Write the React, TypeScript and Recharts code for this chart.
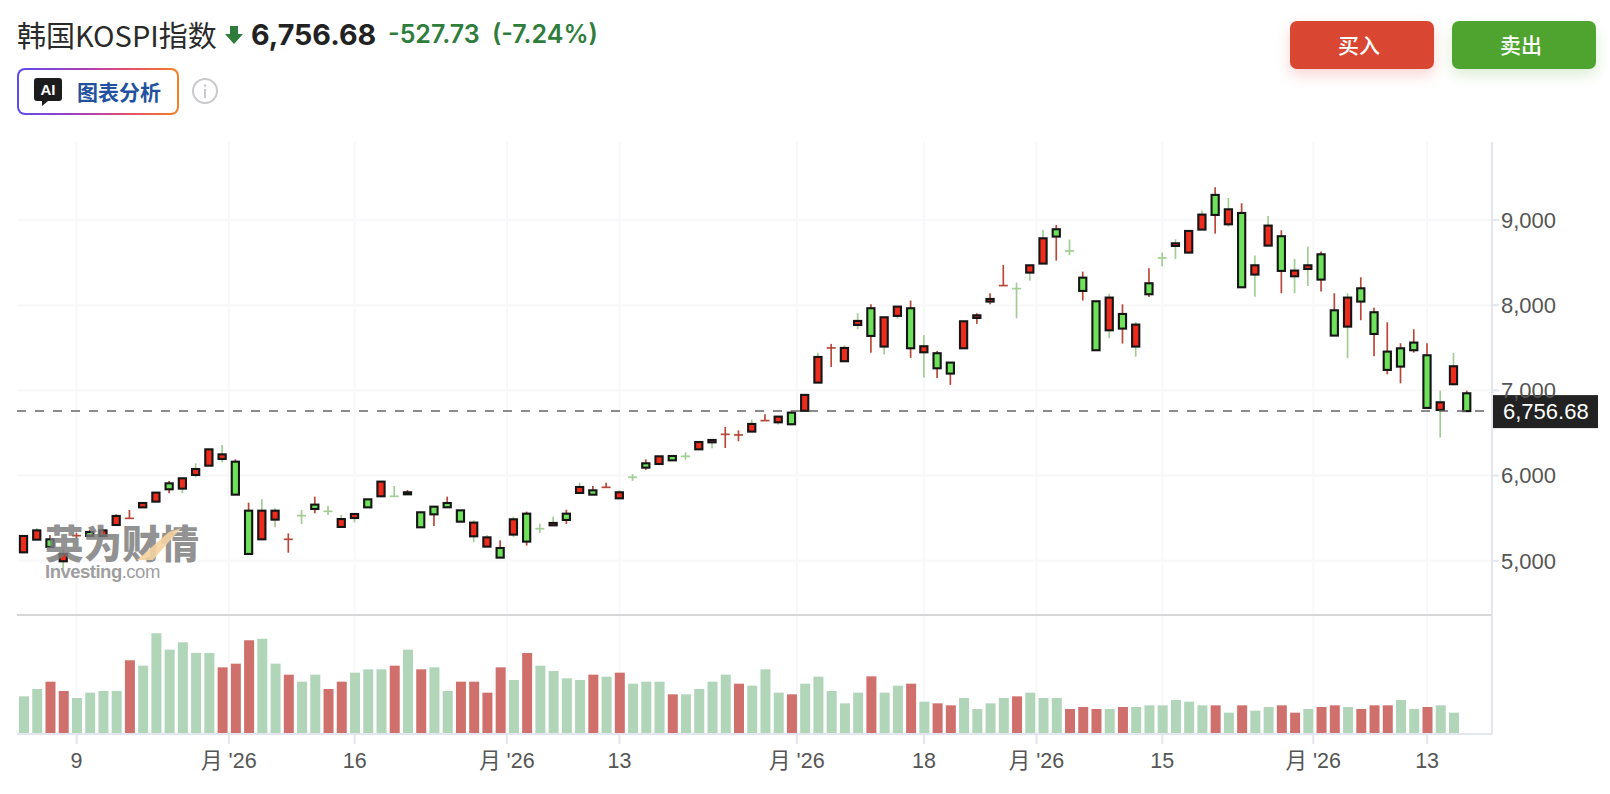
// App.tsx - KOSPI daily candles with volume pane
import { ComposedChart, Bar, Cell, CartesianGrid, XAxis, YAxis, ReferenceLine } from 'recharts'

const opens = [
  5099, 5248, 5252, 4994, 5295, 5338, 5291, 5420, 5498, 5627,
  5694, 5909, 5847, 6007, 6116, 6195, 6163, 5588, 5252, 5483,
  5252, 5530, 5659, 5580, 5397, 5502, 5721, 5757, 5757, 5780,
  5569, 5635, 5678, 5592, 5287, 5166, 5150, 5307, 5553, 5377,
  5416, 5553, 5796, 5827, 5862, 5733, 5980, 6144, 6136, 6230,
  6226, 6308, 6390, 6484, 6477, 6516, 6645, 6625, 6739, 6760,
  7091, 7498, 7342, 7768, 7964, 7514, 7874, 7964, 7447, 7436,
  7326, 7494, 7850, 8042, 8230, 8194, 8382, 8488, 8891, 8636,
  8323, 8046, 7705, 7897, 7514, 8257, 8554, 8695, 8617, 8887,
  9294, 8949, 9082, 8359, 8699, 8809, 8339, 8425, 8597, 7940,
  7748, 8198, 7917, 7455, 7494, 7561, 7412, 6770, 7072, 6966,
]
const highs = [
  5291, 5385, 5303, 5131, 5330, 5361, 5369, 5545, 5596, 5678,
  5800, 5937, 5976, 6144, 6308, 6359, 6191, 5682, 5725, 5616,
  5322, 5596, 5753, 5643, 5537, 5549, 5721, 5929, 5878, 5831,
  5569, 5635, 5753, 5592, 5475, 5303, 5240, 5518, 5577, 5436,
  5518, 5600, 5917, 5878, 5917, 5831, 6019, 6191, 6226, 6230,
  6273, 6394, 6418, 6570, 6531, 6656, 6719, 6692, 6762, 6947,
  7443, 7545, 7529, 7905, 8010, 7858, 7983, 8054, 7651, 7463,
  7326, 7811, 7905, 8140, 8472, 8265, 8468, 8883, 8942, 8769,
  8394, 8046, 8136, 8010, 7803, 8433, 8617, 8773, 8871, 9110,
  9384, 9258, 9196, 8582, 9047, 8879, 8543, 8687, 8629, 8140,
  8140, 8327, 7971, 7799, 7553, 7717, 7553, 6997, 7439, 6997,
]
const lows = [
  5099, 5248, 5162, 4911, 5264, 5291, 5291, 5420, 5498, 5627,
  5694, 5792, 5792, 5979, 6116, 6152, 5776, 5080, 5252, 5393,
  5095, 5432, 5557, 5537, 5397, 5451, 5627, 5757, 5757, 5780,
  5393, 5409, 5628, 5459, 5217, 5166, 5037, 5279, 5178, 5326,
  5416, 5432, 5796, 5776, 5862, 5733, 5937, 6066, 6136, 6179,
  6187, 6308, 6320, 6324, 6402, 6516, 6645, 6598, 6602, 6760,
  7091, 7275, 7342, 7717, 7443, 7420, 7842, 7381, 7150, 7146,
  7064, 7494, 7780, 8010, 8230, 7846, 8288, 8488, 8523, 8586,
  8054, 7471, 7611, 7549, 7396, 8097, 8456, 8542, 8617, 8887,
  8840, 8922, 8210, 8100, 8699, 8140, 8140, 8226, 8159, 7643,
  7377, 7823, 7400, 7189, 7083, 7443, 6794, 6446, 7072, 6756.68,
]
const closes = [
  5291, 5357, 5162, 5080, 5295, 5291, 5357, 5526, 5498, 5678,
  5800, 5839, 5968, 6077, 6308, 6249, 5776, 5080, 5588, 5588,
  5252, 5530, 5608, 5580, 5490, 5549, 5627, 5929, 5757, 5804,
  5393, 5545, 5628, 5459, 5448, 5275, 5037, 5487, 5225, 5377,
  5444, 5479, 5866, 5776, 5862, 5804, 5980, 6093, 6226, 6179,
  6226, 6394, 6418, 6484, 6477, 6606, 6645, 6692, 6602, 6947,
  7392, 7498, 7498, 7815, 7639, 7858, 7983, 7494, 7518, 7259,
  7197, 7811, 7881, 8073, 8230, 8194, 8468, 8785, 8805, 8636,
  8167, 7471, 8089, 7725, 7772, 8128, 8554, 8726, 8871, 9063,
  9059, 9125, 8210, 8468, 8934, 8402, 8406, 8468, 8300, 7643,
  8089, 8042, 7662, 7240, 7279, 7471, 6794, 6860, 7283, 6756.68,
]
// wick colour differs from the body colour on this chart
const wickDirs = [
  'r', 'g', 'r', 'g', 'r', 'r', 'r', 'r', 'r', 'r',
  'r', 'r', 'g', 'g', 'r', 'g', 'r', 'r', 'g', 'g',
  'r', 'g', 'r', 'g', 'g', 'g', 'r', 'r', 'g', 'r',
  'r', 'r', 'r', 'r', 'g', 'g', 'r', 'g', 'r', 'g',
  'g', 'r', 'g', 'r', 'r', 'g', 'g', 'r', 'r', 'g',
  'g', 'r', 'g', 'r', 'r', 'g', 'r', 'g', 'r', 'r',
  'g', 'r', 'g', 'g', 'r', 'g', 'g', 'r', 'g', 'r',
  'r', 'r', 'r', 'r', 'r', 'g', 'g', 'g', 'r', 'g',
  'r', 'r', 'g', 'r', 'g', 'r', 'g', 'g', 'r', 'g',
  'r', 'g', 'r', 'g', 'g', 'r', 'g', 'g', 'r', 'r',
  'g', 'r', 'r', 'r', 'r', 'r', 'r', 'g', 'g', 'r',
]
const volumes = [
  113, 135, 157, 129, 108, 124, 129, 129, 221, 205,
  302, 253, 275, 243, 243, 200, 211, 281, 286, 211,
  178, 157, 178, 135, 157, 184, 194, 194, 205, 253,
  194, 200, 129, 157, 157, 124, 200, 162, 243, 205,
  189, 167, 162, 178, 172, 184, 151, 157, 157, 119,
  119, 135, 157, 178, 151, 145, 194, 124, 119, 151,
  172, 129, 92, 124, 173, 124, 145, 151, 97, 92,
  86, 108, 75, 92, 108, 113, 124, 108, 108, 75,
  81, 75, 75, 81, 81, 86, 86, 102, 97, 86,
  86, 64, 86, 70, 81, 86, 64, 75, 81, 86,
  81, 75, 86, 86, 102, 75, 81, 86, 64, 0,
]
const volumeDirs = [
  'g', 'g', 'r', 'r', 'g', 'g', 'g', 'g', 'r', 'g',
  'g', 'g', 'g', 'g', 'g', 'r', 'r', 'r', 'g', 'g',
  'r', 'g', 'g', 'r', 'r', 'g', 'g', 'g', 'r', 'g',
  'r', 'g', 'g', 'r', 'r', 'r', 'r', 'g', 'r', 'g',
  'g', 'g', 'g', 'r', 'g', 'r', 'g', 'g', 'g', 'r',
  'g', 'g', 'g', 'g', 'r', 'g', 'g', 'g', 'r', 'g',
  'g', 'g', 'g', 'g', 'r', 'g', 'g', 'r', 'g', 'r',
  'r', 'g', 'g', 'g', 'g', 'r', 'g', 'g', 'g', 'r',
  'r', 'r', 'g', 'r', 'g', 'g', 'g', 'g', 'g', 'g',
  'r', 'g', 'r', 'g', 'g', 'r', 'r', 'g', 'r', 'r',
  'g', 'r', 'r', 'r', 'g', 'g', 'r', 'g', 'g', 'g',
]
const xTickPositions = [4, 15.5, 25, 36.5, 45, 58.4, 68, 76.5, 86, 97.4, 106]
const xTickLabels = ['9', "月 '26", '16', "月 '26", '13', "月 '26", '18', "月 '26", '15', "月 '26", '13']
const priceTicks = [5000, 6000, 7000, 8000, 9000]
const PRICE_DOMAIN = [2967, 9915]
const VOLUME_PANE_TOP = 357
const VOLUME_DOMAIN = [0, 1776]
const X_DOMAIN = [-0.5, 110.9]

const data = opens.map((open, i) => ({
  i,
  open,
  high: highs[i],
  low: lows[i],
  close: closes[i],
  wick: wickDirs[i],
  volume: volumes[i],
  volumeDir: volumeDirs[i],
}))

const lastClose = closes[closes.length - 1]
const FONT = '"Liberation Sans", "Noto Sans CJK SC", sans-serif'
const CJK = '"Noto Sans CJK SC", "Inter", sans-serif'
const WICK = { r: '#b8493a', g: '#a2cd94' }

function CandleShape(props: any) {
  const { x, y, width, height, payload } = props
  const { open, high, low, close, wick } = payload
  const h = Math.abs(height)
  const unit = h / (high - low)
  const cx = x + width / 2
  const topY = y + (high - Math.max(open, close)) * unit
  const bottomY = y + (high - Math.min(open, close)) * unit
  const color = WICK[wick]
  return (
    <g>
      <line x1={cx} x2={cx} y1={y} y2={y + h} stroke={color} strokeWidth={1.7} />
      {open === close ? (
        <line x1={cx - 4.5} x2={cx + 4.5} y1={topY} y2={topY} stroke={color} strokeWidth={1.7} />
      ) : (
        <rect
          x={cx - 3.6}
          y={topY}
          width={7.2}
          height={bottomY - topY}
          fill={close > open ? '#ee2c1d' : '#6ee25a'}
          stroke="#151515"
          strokeWidth={2.1}
        />
      )}
    </g>
  )
}

function PriceTag(props: any) {
  const { x, y, width } = props.viewBox
  const left = x + width
  return (
    <g>
      <rect x={left} y={y - 16} width={106} height={33} fill="#222222" />
      <text x={left + 11} y={y + 8} fill="#ffffff" fontSize={22} fontFamily={FONT}>
        {lastClose.toLocaleString('en-US', { minimumFractionDigits: 2 })}
      </text>
    </g>
  )
}

function Watermark() {
  return (
    <div style={{ position: 'absolute', left: 45, top: 522, width: 160, height: 62, pointerEvents: 'none', opacity: 0.82 }}>
      <div style={{ fontFamily: CJK, fontWeight: 900, fontSize: 38.5, lineHeight: '39px', color: '#7b7b7b', whiteSpace: 'nowrap' }}>英为财情</div>
      <svg width="160" height="44" style={{ position: 'absolute', left: 0, top: 0 }}>
        <path d="M92 38 L108 38 L136 6 L124 10 Z" fill="#f3c98b" opacity={0.9} />
      </svg>
      <div style={{ position: 'absolute', left: 0, top: 40, fontFamily: FONT, fontSize: 18.5, lineHeight: '20px', letterSpacing: -0.5, color: '#8a8a8a', whiteSpace: 'nowrap' }}>
        <b>Investing</b>.com
      </div>
    </div>
  )
}

function Header() {
  return (
    <>
      <div style={{ position: 'absolute', left: 17, top: 15, fontFamily: CJK, fontSize: 29, lineHeight: '38px', color: '#2a2a2a', whiteSpace: 'nowrap' }}>韩国KOSPI指数</div>
      <svg width="18" height="20" style={{ position: 'absolute', left: 225, top: 25 }}>
        <path d="M5 1 H13 V9 H18 L9 19 L0 9 H5 Z" fill="#2e7d3c" />
      </svg>
      <div style={{ position: 'absolute', left: 251, top: 16, fontFamily: 'Inter, sans-serif', fontWeight: 700, fontSize: 28.7, lineHeight: '38px', color: '#222', whiteSpace: 'nowrap' }}>6,756.68</div>
      <div style={{ position: 'absolute', left: 388, top: 17, fontFamily: 'Inter, sans-serif', fontWeight: 600, fontSize: 25, lineHeight: '34px', color: '#2e7d3c', whiteSpace: 'nowrap' }}>-527.73</div>
      <div style={{ position: 'absolute', left: 492, top: 17, fontFamily: 'Inter, sans-serif', fontWeight: 600, fontSize: 25, lineHeight: '34px', color: '#2e7d3c', whiteSpace: 'nowrap' }}>(-7.24%)</div>

      <div style={{ position: 'absolute', left: 17, top: 68, width: 162, height: 47, boxSizing: 'border-box', borderRadius: 8, padding: 2, background: 'linear-gradient(90deg, #5b4cf0, #b23fb0 45%, #e8506a 70%, #f28022)' }}>
        <div style={{ width: '100%', height: '100%', background: '#fff', borderRadius: 6 }} />
      </div>
      <svg width="28" height="30" style={{ position: 'absolute', left: 34, top: 77 }}>
        <path d="M3 1 H25 Q28 1 28 4 V21 Q28 24 25 24 H14 L8 29 V24 H3 Q0 24 0 21 V4 Q0 1 3 1 Z" fill="#1c1c1c" />
        <text x="14" y="18" textAnchor="middle" fill="#fff" fontFamily={FONT} fontWeight={700} fontSize={15}>AI</text>
      </svg>
      <div style={{ position: 'absolute', left: 77, top: 76, fontFamily: CJK, fontWeight: 700, fontSize: 21, lineHeight: '30px', color: '#22529f', whiteSpace: 'nowrap' }}>图表分析</div>
      <svg width="28" height="28" style={{ position: 'absolute', left: 191, top: 77 }}>
        <circle cx="14" cy="14" r="12" fill="none" stroke="#c9c9cd" strokeWidth="2" />
        <rect x="13" y="12" width="2" height="9" fill="#c9c9cd" />
        <circle cx="14" cy="8.5" r="1.3" fill="#c9c9cd" />
      </svg>

      <div style={{ position: 'absolute', left: 1290, top: 21, width: 138, paddingRight: 6, height: 48, borderRadius: 7, background: '#d94632', boxShadow: '0 6px 14px rgba(217,70,50,0.22)', color: '#fff', fontFamily: CJK, fontSize: 21, fontWeight: 500, lineHeight: '46px', textAlign: 'center' }}>买入</div>
      <div style={{ position: 'absolute', left: 1452, top: 21, width: 138, paddingRight: 6, height: 48, borderRadius: 7, background: '#4ea42f', boxShadow: '0 6px 14px rgba(78,164,47,0.2)', color: '#fff', fontFamily: CJK, fontSize: 21, fontWeight: 500, lineHeight: '46px', textAlign: 'center' }}>卖出</div>
    </>
  )
}

export default function App() {
  return (
    <div style={{ position: 'absolute', left: 0, top: 0, width: 1610, height: 794, background: '#fff', overflow: 'hidden' }}>
      <Header />
      <div style={{ position: 'absolute', left: 0, top: 0 }}>
        <ComposedChart width={1610} height={794} data={data} margin={{ top: 142, right: 0, bottom: 0, left: 17 }}>
          <CartesianGrid xAxisId="main" yAxisId="price" stroke="#f8f8fa" strokeWidth={2} syncWithTicks />
          <XAxis
            xAxisId="main"
            type="number"
            dataKey="i"
            domain={X_DOMAIN}
            ticks={xTickPositions}
            tickFormatter={(_v: number, idx: number) => xTickLabels[idx]}
            interval={0}
            height={60}
            allowDecimals
            tickSize={10}
            tickMargin={9}
            stroke="#e4e6ee"
            strokeWidth={2}
            tick={{ fill: '#555', fontSize: 21.5, fontFamily: FONT }}
          />
          <XAxis xAxisId="candle" type="number" dataKey="i" domain={X_DOMAIN} height={0} hide />
          <YAxis
            yAxisId="price"
            orientation="right"
            domain={PRICE_DOMAIN}
            ticks={priceTicks}
            interval={0}
            width={118}
            tickSize={7}
            stroke="#e4e6ee"
            strokeWidth={2}
            tickFormatter={(v: number) => v.toLocaleString('en-US')}
            tick={{ fill: '#555', fontSize: 22, fontFamily: FONT }}
          />
          <YAxis yAxisId="volume" domain={VOLUME_DOMAIN} hide />
          <Bar xAxisId="main" yAxisId="volume" dataKey="volume" barSize={10} isAnimationActive={false}>
            {data.map((entry, index) => (
              <Cell key={`vol-${index}`} fill={entry.volumeDir === 'r' ? '#cf706c' : '#b0d5b9'} />
            ))}
          </Bar>
          <Bar
            xAxisId="candle"
            yAxisId="price"
            dataKey={(d: any) => [d.low, d.high]}
            barSize={9}
            shape={CandleShape}
            isAnimationActive={false}
          />
          <ReferenceLine xAxisId="main" yAxisId="volume" y={VOLUME_PANE_TOP} stroke="#d6d6d8" strokeWidth={2} />
          <ReferenceLine
            xAxisId="main"
            yAxisId="price"
            y={lastClose}
            stroke="#666"
            strokeWidth={1.5}
            strokeDasharray="9 9"
            strokeDashoffset={10}
            label={<PriceTag />}
          />
        </ComposedChart>
      </div>
      <Watermark />
    </div>
  )
}
